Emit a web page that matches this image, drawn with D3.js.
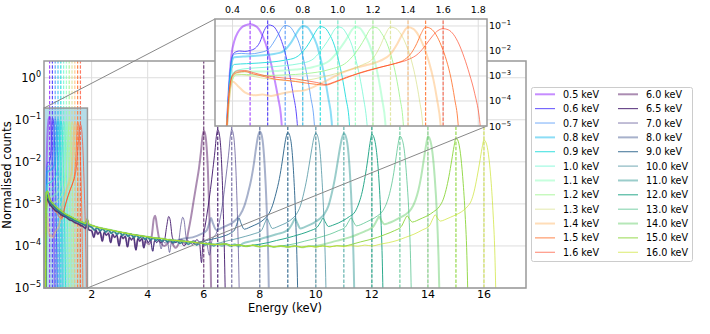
<!DOCTYPE html>
<html>
<head>
<meta charset="utf-8">
<script src="https://cdn.jsdelivr.net/npm/d3@7"></script>
<style>
  body { margin: 0; background: #fff; }
  text { font-family: "DejaVu Sans", sans-serif; fill: #000; }
</style>
</head>
<body>
<script>
// beam energies (keV)
var lowE = [0.5, 0.6, 0.7, 0.8, 0.9, 1.0, 1.1, 1.2, 1.3, 1.4, 1.5, 1.6];
var highE = [6.0, 6.5, 7.0, 8.0, 9.0, 10.0, 11.0, 12.0, 13.0, 14.0, 15.0, 16.0];

// tick values
var mainXTicks = [2, 4, 6, 8, 10, 12, 14, 16];
var mainYTicks = [1e-5, 1e-4, 1e-3, 1e-2, 1e-1, 1];
var insetXTicks = [0.4, 0.6, 0.8, 1.0, 1.2, 1.4, 1.6, 1.8];
var insetYTicks = [1e-5, 1e-4, 1e-3, 1e-2, 1e-1];

// low energy spectra [energy, normalised counts]
var s05 = [[0.36,1e-6],[0.375,1e-4],[0.385,1.5e-3],[0.395,8e-3],[0.41,0.025],[0.43,0.055],[0.45,0.085],[0.475,0.108],[0.5,0.118],[0.525,0.105],[0.55,0.075],[0.575,0.035],[0.6,0.011],[0.62,3e-3],[0.64,7e-4],[0.66,1.3e-4],[0.675,3e-5],[0.69,1e-6]];
var s06 = [[0.36,1e-6],[0.375,1e-4],[0.385,1.2e-3],[0.395,5e-3],[0.41,8.5e-3],[0.44,1.0e-2],[0.47,9.6e-3],[0.5,1.05e-2],[0.53,1.3e-2],[0.555,0.022],[0.58,0.065],[0.605,0.11],[0.63,0.1],[0.655,0.06],[0.68,0.024],[0.705,6e-3],[0.725,1.2e-3],[0.745,2e-4],[0.765,2.5e-5],[0.78,1e-6]];
var s07 = [[0.36,1e-6],[0.375,1e-4],[0.385,1e-3],[0.395,4.5e-3],[0.41,7.5e-3],[0.45,8e-3],[0.5,7.6e-3],[0.55,8.5e-3],[0.6,1.1e-2],[0.63,0.02],[0.66,0.045],[0.68,0.08],[0.7,0.105],[0.725,0.095],[0.75,0.056],[0.78,0.02],[0.805,4.5e-3],[0.825,1e-3],[0.845,1.5e-4],[0.865,1.5e-5],[0.875,1e-6]];
var s08 = [[0.36,1e-6],[0.375,8e-5],[0.385,8e-4],[0.395,3.5e-3],[0.41,5.6e-3],[0.46,6e-3],[0.52,6.3e-3],[0.6,7e-3],[0.68,9e-3],[0.73,0.02],[0.76,0.045],[0.78,0.075],[0.8,0.1],[0.825,0.09],[0.85,0.052],[0.88,0.018],[0.905,4e-3],[0.925,9e-4],[0.945,1.4e-4],[0.965,1.5e-5],[0.975,1e-6]];
var s09 = [[0.36,1e-6],[0.375,6e-5],[0.385,6e-4],[0.395,2e-3],[0.41,2.9e-3],[0.48,3.1e-3],[0.55,3.3e-3],[0.62,3.6e-3],[0.7,4.3e-3],[0.76,5.5e-3],[0.82,0.014],[0.86,0.04],[0.88,0.07],[0.9,0.095],[0.925,0.085],[0.95,0.05],[0.98,0.017],[1.005,4e-3],[1.025,9e-4],[1.045,1.4e-4],[1.065,1.5e-5],[1.075,1e-6]];
var s10 = [[0.36,1e-6],[0.375,5e-5],[0.39,6e-4],[0.41,1.5e-3],[0.46,1.9e-3],[0.53,2.1e-3],[0.62,2.3e-3],[0.7,2.6e-3],[0.78,3.1e-3],[0.85,4.3e-3],[0.92,0.015],[0.96,0.04],[0.98,0.07],[1.0,0.092],[1.025,0.083],[1.05,0.048],[1.08,0.017],[1.105,3.8e-3],[1.125,9e-4],[1.145,1.5e-4],[1.165,1.5e-5],[1.178,1e-6]];
var s11 = [[0.36,1e-6],[0.375,5e-5],[0.39,5e-4],[0.41,1.3e-3],[0.47,1.5e-3],[0.56,1.5e-3],[0.66,1.6e-3],[0.76,1.8e-3],[0.86,2.3e-3],[0.95,4e-3],[1.02,0.015],[1.06,0.04],[1.08,0.07],[1.1,0.09],[1.125,0.082],[1.15,0.048],[1.18,0.018],[1.21,4e-3],[1.232,8e-4],[1.252,1.2e-4],[1.27,1.5e-5],[1.28,1e-6]];
var s12 = [[0.36,1e-6],[0.375,5e-5],[0.39,4e-4],[0.42,1.1e-3],[0.48,1.15e-3],[0.58,1.05e-3],[0.7,1.1e-3],[0.82,1.25e-3],[0.95,1.8e-3],[1.05,3.5e-3],[1.12,0.013],[1.16,0.038],[1.18,0.068],[1.2,0.09],[1.225,0.083],[1.25,0.05],[1.28,0.02],[1.31,4.5e-3],[1.333,9e-4],[1.353,1.4e-4],[1.372,1.5e-5],[1.382,1e-6]];
var s13 = [[0.36,1e-6],[0.375,5e-5],[0.39,5e-4],[0.42,1.2e-3],[0.47,1.1e-3],[0.56,8.5e-4],[0.66,7e-4],[0.76,6.2e-4],[0.86,7.5e-4],[0.96,1.1e-3],[1.06,1.7e-3],[1.14,2.8e-3],[1.2,5e-3],[1.24,0.015],[1.27,0.045],[1.3,0.09],[1.33,0.08],[1.36,0.046],[1.39,0.017],[1.42,4e-3],[1.445,7e-4],[1.465,1.1e-4],[1.483,1.2e-5],[1.492,1e-6]];
var s14 = [[0.36,1e-6],[0.38,1e-4],[0.4,6e-4],[0.43,4e-4],[0.47,2.2e-4],[0.52,1.7e-4],[0.57,1.8e-4],[0.62,1.6e-4],[0.68,2e-4],[0.74,2.4e-4],[0.8,2.6e-4],[0.86,3.6e-4],[0.92,5.8e-4],[0.98,9.5e-4],[1.04,1.5e-3],[1.1,2.1e-3],[1.17,2.8e-3],[1.24,4e-3],[1.3,7.5e-3],[1.34,0.02],[1.37,0.05],[1.4,0.088],[1.43,0.076],[1.46,0.042],[1.49,0.015],[1.52,3.5e-3],[1.545,7e-4],[1.565,1.2e-4],[1.585,1.2e-5],[1.595,1e-6]];
var s15 = [[0.36,1e-6],[0.38,2e-4],[0.4,1e-3],[0.43,1.4e-3],[0.47,1.5e-3],[0.52,1.2e-3],[0.58,9.5e-4],[0.64,7.5e-4],[0.7,6.8e-4],[0.76,6e-4],[0.82,5.2e-4],[0.88,4.6e-4],[0.93,4.3e-4],[0.98,5.5e-4],[1.05,8.5e-4],[1.12,1.3e-3],[1.2,1.9e-3],[1.27,2.5e-3],[1.33,3.2e-3],[1.38,4.5e-3],[1.42,8.5e-3],[1.45,0.02],[1.475,0.05],[1.5,0.09],[1.53,0.078],[1.56,0.044],[1.59,0.016],[1.62,4e-3],[1.645,8e-4],[1.665,1.3e-4],[1.685,1.3e-5],[1.695,1e-6]];
var s16 = [[0.36,1e-6],[0.38,2e-4],[0.4,1.1e-3],[0.43,1.6e-3],[0.47,1.65e-3],[0.52,1.35e-3],[0.58,1.05e-3],[0.64,9e-4],[0.7,8.2e-4],[0.76,7.6e-4],[0.82,6.5e-4],[0.88,5.5e-4],[0.93,4.6e-4],[0.98,5.8e-4],[1.04,8.5e-4],[1.1,1.15e-3],[1.17,1.6e-3],[1.25,2.3e-3],[1.33,3.2e-3],[1.4,4.5e-3],[1.46,8e-3],[1.5,0.017],[1.54,0.04],[1.57,0.065],[1.6,0.078],[1.63,0.07],[1.66,0.045],[1.69,0.019],[1.72,5.5e-3],[1.75,1.2e-3],[1.78,2e-4],[1.805,2.5e-5],[1.825,1e-6]];

var contA = [[0.355,1e-6],[0.37,4e-4],[0.38,1.1e-3],[0.42,1.3e-3],[0.5,1.0e-3],[0.6,8.2e-4],[0.7,7e-4],[0.8,6.4e-4],[0.9,5.6e-4],[1.0,5.1e-4],[1.1,4.8e-4],[1.2,4.2e-4],[1.3,4.0e-4],[1.4,3.6e-4],[1.5,3.4e-4],[1.6,3.1e-4],[1.7,2.9e-4],[1.78,2.6e-4],[1.84,3.3e-4],[1.9,2.4e-4],[2.0,2.3e-4],[2.08,1.6e-4],[2.15,2.4e-4],[2.22,1.9e-4],[2.3,2.2e-4],[2.38,1.3e-4],[2.45,2.1e-4],[2.52,1.8e-4],[2.6,2.0e-4],[2.68,1.2e-4],[2.75,1.9e-4],[2.82,1.6e-4],[2.9,1.8e-4],[2.98,1.0e-4],[3.05,1.75e-4],[3.12,1.5e-4],[3.2,1.7e-4],[3.28,0.95e-4],[3.35,1.6e-4],[3.42,1.4e-4],[3.5,1.6e-4],[3.58,0.8e-4],[3.65,1.5e-4],[3.72,1.3e-4],[3.8,1.5e-4],[3.86,0.9e-4],[3.95,1.45e-4],[4.02,1.2e-4],[4.1,1.4e-4],[4.18,0.75e-4],[4.25,1.35e-4],[4.32,1.2e-4],[4.4,1.35e-4],[4.48,0.85e-4],[4.55,1.3e-4],[4.62,1.15e-4],[4.7,1.3e-4],[4.78,0.7e-4],[4.85,1.25e-4],[4.92,1.1e-4]];
var contB = [[0.355,1e-6],[0.37,5e-4],[0.38,1.5e-3],[0.42,1.6e-3],[0.5,1.15e-3],[0.6,9.5e-4],[0.7,8e-4],[0.8,7e-4],[0.9,6.3e-4],[1.0,5.6e-4],[1.1,5.2e-4],[1.2,4.7e-4],[1.3,4.4e-4],[1.4,4.0e-4],[1.5,3.8e-4],[1.6,3.5e-4],[1.7,3.3e-4],[1.78,3.1e-4],[1.84,3.9e-4],[1.9,3.0e-4],[2.0,2.8e-4],[2.1,2.4e-4],[2.2,2.7e-4],[2.3,2.3e-4],[2.4,2.55e-4],[2.5,2.15e-4],[2.6,2.4e-4],[2.7,2.0e-4],[2.8,2.25e-4],[2.9,1.9e-4],[3.0,2.1e-4],[3.1,1.8e-4],[3.2,2.0e-4],[3.3,1.7e-4],[3.4,1.9e-4],[3.5,1.6e-4],[3.6,1.8e-4],[3.7,1.55e-4],[3.8,1.7e-4],[3.9,1.45e-4],[4.0,1.6e-4],[4.1,1.4e-4],[4.2,1.55e-4],[4.3,1.35e-4],[4.4,1.5e-4],[4.5,1.3e-4],[4.6,1.45e-4],[4.7,1.25e-4],[4.8,1.4e-4],[4.9,1.2e-4],[5.0,1.35e-4],[5.15,1.15e-4],[5.3,1.3e-4],[5.45,1.1e-4],[5.6,1.25e-4],[5.75,1.05e-4],[5.9,1.2e-4],[6.05,1.05e-4],[6.2,1.18e-4],[6.35,1.0e-4],[6.5,1.15e-4],[6.65,1.0e-4],[6.8,1.12e-4],[6.95,0.98e-4],[7.1,1.1e-4],[7.25,0.97e-4],[7.35,1.08e-4]];
var contC = [[0.355,1e-6],[0.37,6e-4],[0.38,1.9e-3],[0.42,2.0e-3],[0.5,1.3e-3],[0.6,1.05e-3],[0.7,9e-4],[0.8,7.8e-4],[0.9,7e-4],[1.0,6.2e-4],[1.1,5.6e-4],[1.2,5.2e-4],[1.3,4.8e-4],[1.4,4.4e-4],[1.5,4.1e-4],[1.6,3.8e-4],[1.7,3.6e-4],[1.78,3.4e-4],[1.84,4.4e-4],[1.9,3.3e-4],[2.0,3.1e-4],[2.2,2.8e-4],[2.4,2.6e-4],[2.6,2.45e-4],[2.8,2.3e-4],[3.0,2.15e-4],[3.25,2.0e-4],[3.5,1.85e-4],[3.75,1.75e-4],[4.0,1.65e-4],[4.25,1.55e-4],[4.5,1.5e-4],[4.75,1.4e-4],[5.0,1.35e-4],[5.25,1.3e-4],[5.5,1.25e-4],[5.75,1.2e-4],[6.0,1.15e-4],[6.25,1.1e-4],[6.5,1.08e-4],[6.75,1.12e-4],[7.0,1.02e-4],[7.25,1.06e-4],[7.5,0.98e-4],[7.75,1.04e-4],[8.0,0.96e-4],[8.25,1.02e-4],[8.5,0.95e-4],[8.75,1.0e-4],[9.0,0.94e-4],[9.25,1.0e-4],[9.5,0.93e-4],[9.75,0.99e-4],[10.0,0.94e-4],[10.25,1.0e-4],[10.5,0.95e-4],[10.75,1.01e-4],[11.0,0.96e-4],[11.25,1.02e-4],[11.5,0.98e-4],[11.75,1.05e-4],[12.0,1.0e-4]];

// high energy spectra near their peaks
var h60 = [[3.9,1.3e-4],[4.05,1.1e-4],[4.15,1.8e-4],[4.22,4.5e-4],[4.27,5.2e-4],[4.33,3e-4],[4.42,1.4e-4],[4.6,1.0e-4],[4.8,1.3e-4],[5.0,0.9e-4],[5.2,1.4e-4],[5.35,1.1e-4],[5.45,2.2e-4],[5.55,5e-4],[5.65,1.3e-3],[5.74,3e-3],[5.83,7e-3],[5.9,0.017],[5.95,0.037],[6.0,0.055],[6.05,0.046],[6.1,0.024],[6.15,6e-3],[6.2,6e-4],[6.25,3e-5],[6.29,1e-6]];
var h65 = [[4.45,1.2e-4],[4.6,1.4e-4],[4.68,3e-4],[4.75,5e-4],[4.8,4.2e-4],[4.88,1.6e-4],[5.0,1.2e-4],[5.15,1.4e-4],[5.3,1.0e-4],[5.45,1.3e-4],[5.6,1.1e-4],[5.75,1.4e-4],[5.85,1.2e-4],[5.92,4e-5],[5.98,1.6e-4],[6.05,3e-4],[6.15,8e-4],[6.24,2.2e-3],[6.33,7e-3],[6.4,0.018],[6.45,0.04],[6.5,0.058],[6.55,0.048],[6.6,0.025],[6.65,6e-3],[6.7,6e-4],[6.75,3e-5],[6.79,1e-6]];
var h70 = [[4.95,1.2e-4],[5.1,1.3e-4],[5.18,3e-4],[5.25,4.8e-4],[5.3,4e-4],[5.38,1.5e-4],[5.5,1.2e-4],[5.65,1.35e-4],[5.8,1.1e-4],[5.95,1.3e-4],[6.1,1.2e-4],[6.2,0.6e-4],[6.3,1.4e-4],[6.45,2e-4],[6.55,3.5e-4],[6.65,8e-4],[6.74,2.2e-3],[6.83,7e-3],[6.9,0.018],[6.95,0.041],[7.0,0.058],[7.05,0.048],[7.1,0.025],[7.15,6e-3],[7.2,6e-4],[7.25,3e-5],[7.29,1e-6]];
var h80 = [[5.0,1.3e-4],[5.3,1.5e-4],[5.6,1.6e-4],[5.9,1.9e-4],[6.1,2.3e-4],[6.2,3.5e-4],[6.26,4.6e-4],[6.32,3.6e-4],[6.45,2.4e-4],[6.6,2.6e-4],[6.8,3e-4],[7.0,3.5e-4],[7.15,4.2e-4],[7.3,5.5e-4],[7.45,9e-4],[7.58,1.8e-3],[7.7,4e-3],[7.8,0.01],[7.87,0.022],[7.94,0.041],[8.0,0.053],[8.06,0.045],[8.12,0.025],[8.18,7e-3],[8.24,1e-3],[8.3,6e-5],[8.35,1e-6]];
var h90 = [[5.8,1.2e-4],[6.1,1.35e-4],[6.4,1.5e-4],[6.7,1.7e-4],[6.95,2e-4],[7.1,2.4e-4],[7.2,3.6e-4],[7.26,4.6e-4],[7.32,3.6e-4],[7.45,2.5e-4],[7.6,2.7e-4],[7.8,3.1e-4],[8.0,3.6e-4],[8.15,4.3e-4],[8.3,5.5e-4],[8.45,9e-4],[8.58,1.8e-3],[8.7,4e-3],[8.8,0.01],[8.87,0.021],[8.94,0.039],[9.0,0.05],[9.07,0.042],[9.14,0.022],[9.21,5e-3],[9.27,7e-4],[9.33,4e-5],[9.38,1e-6]];
var h100 = [[6.6,1.2e-4],[6.9,1.35e-4],[7.2,1.5e-4],[7.5,1.7e-4],[7.8,1.95e-4],[8.05,2.3e-4],[8.18,3.5e-4],[8.26,4.5e-4],[8.33,3.6e-4],[8.45,2.6e-4],[8.6,2.8e-4],[8.8,3.2e-4],[9.0,3.7e-4],[9.15,4.4e-4],[9.3,5.6e-4],[9.45,9e-4],[9.57,1.8e-3],[9.68,4e-3],[9.78,0.01],[9.86,0.021],[9.93,0.037],[10.0,0.048],[10.07,0.04],[10.14,0.021],[10.21,5e-3],[10.28,6e-4],[10.34,4e-5],[10.39,1e-6]];
var h110 = [[7.4,1.15e-4],[7.7,1.3e-4],[8.0,1.45e-4],[8.3,1.65e-4],[8.6,1.9e-4],[8.9,2.2e-4],[9.05,2.6e-4],[9.18,3.6e-4],[9.26,4.5e-4],[9.33,3.6e-4],[9.45,2.6e-4],[9.6,2.8e-4],[9.8,3.2e-4],[10.0,3.8e-4],[10.15,4.5e-4],[10.3,5.7e-4],[10.45,9e-4],[10.57,1.8e-3],[10.68,4e-3],[10.78,0.01],[10.86,0.021],[10.93,0.036],[11.0,0.047],[11.07,0.04],[11.15,0.02],[11.22,5e-3],[11.29,6e-4],[11.35,4e-5],[11.4,1e-6]];
var h120 = [[8.0,1.1e-4],[8.3,1.2e-4],[8.6,1.35e-4],[8.9,1.5e-4],[9.2,1.7e-4],[9.5,1.95e-4],[9.8,2.3e-4],[10.05,2.8e-4],[10.18,3.8e-4],[10.26,4.6e-4],[10.33,3.8e-4],[10.45,2.9e-4],[10.6,3.1e-4],[10.8,3.5e-4],[11.0,4.1e-4],[11.2,5e-4],[11.4,6.5e-4],[11.55,1.1e-3],[11.66,2e-3],[11.76,4.5e-3],[11.85,0.011],[11.93,0.027],[12.0,0.045],[12.08,0.037],[12.16,0.019],[12.24,5e-3],[12.31,7e-4],[12.37,5e-5],[12.42,1e-6]];
var h130 = [[9.0,1.05e-4],[9.3,1.15e-4],[9.6,1.3e-4],[9.9,1.45e-4],[10.2,1.65e-4],[10.5,1.9e-4],[10.8,2.3e-4],[11.05,2.8e-4],[11.18,3.9e-4],[11.26,4.7e-4],[11.33,3.9e-4],[11.45,3e-4],[11.6,3.2e-4],[11.8,3.7e-4],[12.0,4.3e-4],[12.2,5.2e-4],[12.4,7e-4],[12.55,1.15e-3],[12.66,2.1e-3],[12.76,4.5e-3],[12.85,0.011],[12.93,0.025],[13.0,0.041],[13.08,0.034],[13.16,0.018],[13.24,4.5e-3],[13.32,6e-4],[13.38,5e-5],[13.43,1e-6]];
var h140 = [[10.0,1.0e-4],[10.3,1.1e-4],[10.6,1.25e-4],[10.9,1.4e-4],[11.2,1.6e-4],[11.5,1.9e-4],[11.8,2.3e-4],[12.05,2.9e-4],[12.18,4.1e-4],[12.26,5e-4],[12.33,4.1e-4],[12.45,3.3e-4],[12.6,3.5e-4],[12.8,4e-4],[13.0,4.7e-4],[13.2,5.6e-4],[13.4,7.5e-4],[13.55,1.2e-3],[13.66,2.1e-3],[13.76,4.5e-3],[13.85,0.011],[13.93,0.024],[14.0,0.04],[14.08,0.033],[14.16,0.017],[14.24,4.5e-3],[14.32,6e-4],[14.38,5e-5],[14.44,1e-6]];
var h150 = [[11.0,1.0e-4],[11.3,1.1e-4],[11.6,1.25e-4],[11.9,1.4e-4],[12.2,1.6e-4],[12.5,1.9e-4],[12.8,2.3e-4],[13.05,2.9e-4],[13.18,4.3e-4],[13.26,5.2e-4],[13.34,4.4e-4],[13.45,3.7e-4],[13.6,4e-4],[13.8,4.6e-4],[14.0,5.3e-4],[14.2,6.5e-4],[14.4,8.5e-4],[14.55,1.3e-3],[14.65,2.2e-3],[14.75,4.5e-3],[14.85,0.011],[14.93,0.023],[15.0,0.037],[15.08,0.031],[15.16,0.016],[15.24,4.5e-3],[15.32,7e-4],[15.39,6e-5],[15.45,1e-6]];
var h160 = [[12.0,1.0e-4],[12.3,1.1e-4],[12.6,1.2e-4],[12.9,1.35e-4],[13.2,1.6e-4],[13.5,1.9e-4],[13.8,2.4e-4],[14.05,3e-4],[14.18,4.5e-4],[14.26,5.5e-4],[14.34,4.6e-4],[14.45,3.9e-4],[14.6,4.2e-4],[14.8,4.8e-4],[15.0,5.5e-4],[15.2,6.5e-4],[15.4,8.5e-4],[15.55,1.2e-3],[15.65,2e-3],[15.75,4.2e-3],[15.85,0.01],[15.93,0.021],[16.0,0.033],[16.08,0.028],[16.16,0.015],[16.24,4.5e-3],[16.32,7e-4],[16.39,6e-5],[16.45,1e-6]];

var lowSpectra = [s05, s06, s07, s08, s09, s10, s11, s12, s13, s14, s15, s16];
var highPeaks = [h60, h65, h70, h80, h90, h100, h110, h120, h130, h140, h150, h160];
var highConts = [contA, contA, contA, contB, contB, contB, contB, contC, contC, contC, contC, contC];

// line style cycle: thick+faint, thin, thin+mid
var widths = [2, 1, 1];
var alphas = [0.45, 0.95, 0.65];

// matplotlib "rainbow" colormap
function rainbow(t) {
  var r = Math.min(1, Math.abs(2 * t - 0.5));
  var g = Math.sin(Math.PI * t);
  var b = Math.cos(Math.PI * t / 2);
  return d3.rgb(r * 255, g * 255, b * 255).formatHex();
}

var lowSeries = lowE.map(function(e, i) {
  return {e: e, label: e.toFixed(1) + " keV", color: rainbow(i / 12), w: widths[i % 3], a: alphas[i % 3], data: lowSpectra[i]};
});
var highSeries = highE.map(function(e, i) {
  var pk = highPeaks[i];
  var cont = highConts[i].filter(function(p) { return p[0] < pk[0][0]; });
  return {e: e, label: e.toFixed(1) + " keV", color: d3.interpolateViridis(i / 12), w: widths[i % 3], a: alphas[i % 3], data: cont.concat(pk)};
});

var svg = d3.select("body").append("svg")
  .attr("width", 710)
  .attr("height", 334);

var x = d3.scaleLinear().domain([0.3, 17.5]).range([44, 526]);
var y = d3.scaleLog().domain([1e-5, 2.5]).range([288, 61]);
var xi = d3.scaleLinear().domain([0.3, 1.85]).range([215, 487]);
var yi = d3.scaleLog().domain([1e-5, 0.19]).range([126, 19]);

var defs = svg.append("defs");
defs.append("clipPath").attr("id", "clipMain").append("rect")
  .attr("x", 44).attr("y", 61).attr("width", 482).attr("height", 227);
defs.append("clipPath").attr("id", "clipInset").append("rect")
  .attr("x", 215).attr("y", 19).attr("width", 272).attr("height", 107);

function expLabel(sel, v, sup, dy) {
  var p = Math.round(Math.log10(v));
  sel.text("10").append("tspan")
    .attr("dy", dy)
    .attr("font-size", sup)
    .text(p < 0 ? "\u2212" + (-p) : String(p));
}

// ---------- main axes ----------
var main = svg.append("g");

main.selectAll(".gx").data(mainXTicks).enter().append("line")
  .attr("x1", function(d) { return x(d); }).attr("x2", function(d) { return x(d); })
  .attr("y1", 61).attr("y2", 288)
  .attr("stroke", "#dddddd").attr("stroke-width", 1);
main.selectAll(".gy").data(mainYTicks).enter().append("line")
  .attr("y1", function(d) { return y(d); }).attr("y2", function(d) { return y(d); })
  .attr("x1", 44).attr("x2", 526)
  .attr("stroke", "#dddddd").attr("stroke-width", 1);

// zoom region indicator (fill under the spectra)
var zx0 = x(0.3), zx1 = x(1.85), zy0 = y(0.19), zy1 = y(1e-5);
main.append("rect")
  .attr("x", zx0).attr("y", zy0)
  .attr("width", zx1 - zx0).attr("height", zy1 - zy0)
  .attr("fill", "#add8e6").attr("fill-opacity", 0.9);

var plotMain = main.append("g").attr("clip-path", "url(#clipMain)");
var lineMain = d3.line()
  .x(function(d) { return x(d[0]); })
  .y(function(d) { return y(d[1]); })
  .curve(d3.curveMonotoneX);

function drawSeries(g, list, line, xs, y0, y1) {
  list.forEach(function(s) {
    g.append("path")
      .attr("d", line(s.data))
      .attr("fill", "none")
      .attr("stroke", s.color)
      .attr("stroke-width", s.w)
      .attr("stroke-opacity", s.a)
      .attr("stroke-linejoin", "round");
    g.append("line")
      .attr("x1", xs(s.e)).attr("x2", xs(s.e))
      .attr("y1", y0).attr("y2", y1)
      .attr("stroke", s.color)
      .attr("stroke-width", 1.2)
      .attr("stroke-opacity", Math.max(s.a, 0.7))
      .attr("stroke-dasharray", "3.5,1.6");
  });
}
drawSeries(plotMain, lowSeries, lineMain, x, 288, 61);
drawSeries(plotMain, highSeries, lineMain, x, 288, 61);

main.append("rect")
  .attr("x", zx0).attr("y", zy0)
  .attr("width", zx1 - zx0).attr("height", zy1 - zy0)
  .attr("fill", "none")
  .attr("stroke", "#999999").attr("stroke-width", 1.5);

// tick labels
main.selectAll(".tx").data(mainXTicks).enter().append("text")
  .attr("x", function(d) { return x(d); })
  .attr("y", 297.5)
  .attr("text-anchor", "middle")
  .attr("font-size", 11)
  .text(function(d) { return d; });
main.selectAll(".ty").data(mainYTicks).enter().append("text")
  .attr("x", 41)
  .attr("y", function(d) { return y(d) + 4; })
  .attr("text-anchor", "end")
  .attr("font-size", 11.5)
  .each(function(d) { expLabel(d3.select(this), d, 8, -5); });

main.append("text")
  .attr("x", 285).attr("y", 312)
  .attr("text-anchor", "middle")
  .attr("font-size", 11.5)
  .text("Energy (keV)");
main.append("text")
  .attr("transform", "translate(11,175) rotate(-90)")
  .attr("text-anchor", "middle")
  .attr("font-size", 11.5)
  .text("Normalised counts");

main.append("rect")
  .attr("x", 44).attr("y", 61).attr("width", 482).attr("height", 227)
  .attr("fill", "none").attr("stroke", "#999999").attr("stroke-width", 1.5);

// connector lines
svg.append("line")
  .attr("x1", zx0).attr("y1", zy0).attr("x2", 215).attr("y2", 19)
  .attr("stroke", "#888888").attr("stroke-width", 1);
svg.append("line")
  .attr("x1", zx1).attr("y1", zy1).attr("x2", 487).attr("y2", 126)
  .attr("stroke", "#888888").attr("stroke-width", 1);

// ---------- inset ----------
var inset = svg.append("g");
inset.append("rect")
  .attr("x", 215).attr("y", 19).attr("width", 272).attr("height", 107)
  .attr("fill", "#fff");
inset.selectAll(".gx").data(insetXTicks).enter().append("line")
  .attr("x1", function(d) { return xi(d); }).attr("x2", function(d) { return xi(d); })
  .attr("y1", 19).attr("y2", 126)
  .attr("stroke", "#dddddd").attr("stroke-width", 1);
inset.selectAll(".gy").data(insetYTicks).enter().append("line")
  .attr("y1", function(d) { return yi(d); }).attr("y2", function(d) { return yi(d); })
  .attr("x1", 215).attr("x2", 487)
  .attr("stroke", "#dddddd").attr("stroke-width", 1);

var plotInset = inset.append("g").attr("clip-path", "url(#clipInset)");
var lineInset = d3.line()
  .x(function(d) { return xi(d[0]); })
  .y(function(d) { return yi(d[1]); })
  .curve(d3.curveMonotoneX);
drawSeries(plotInset, lowSeries, lineInset, xi, 126, 19);

inset.append("rect")
  .attr("x", 215).attr("y", 19).attr("width", 272).attr("height", 107)
  .attr("fill", "none").attr("stroke", "#999999").attr("stroke-width", 1.5);

inset.selectAll(".tx").data(insetXTicks).enter().append("text")
  .attr("x", function(d) { return xi(d); })
  .attr("y", 13)
  .attr("text-anchor", "middle")
  .attr("font-size", 9.5)
  .text(function(d) { return d.toFixed(1); });
inset.selectAll(".ty").data(insetYTicks).enter().append("text")
  .attr("x", 489)
  .attr("y", function(d) { return yi(d) + 3.5; })
  .attr("text-anchor", "start")
  .attr("font-size", 9.5)
  .each(function(d) { expLabel(d3.select(this), d, 6.8, -4); });

// ---------- legend ----------
var legend = svg.append("g");
legend.append("rect")
  .attr("x", 531.5).attr("y", 87.5).attr("width", 161).attr("height", 174)
  .attr("rx", 2)
  .attr("fill", "#fff").attr("stroke", "#cccccc").attr("stroke-width", 1);

function legendColumn(list, hx, tx) {
  list.forEach(function(s, i) {
    var ry = 94.3 + i * 14.36;
    legend.append("line")
      .attr("x1", hx).attr("x2", hx + 20)
      .attr("y1", ry).attr("y2", ry)
      .attr("stroke", s.color)
      .attr("stroke-width", s.w)
      .attr("stroke-opacity", s.a);
    legend.append("text")
      .attr("x", tx).attr("y", ry + 3.5)
      .attr("font-size", 9.6)
      .text(s.label);
  });
}
legendColumn(lowSeries, 535, 563);
legendColumn(highSeries, 618, 646);
</script>
</body>
</html>
